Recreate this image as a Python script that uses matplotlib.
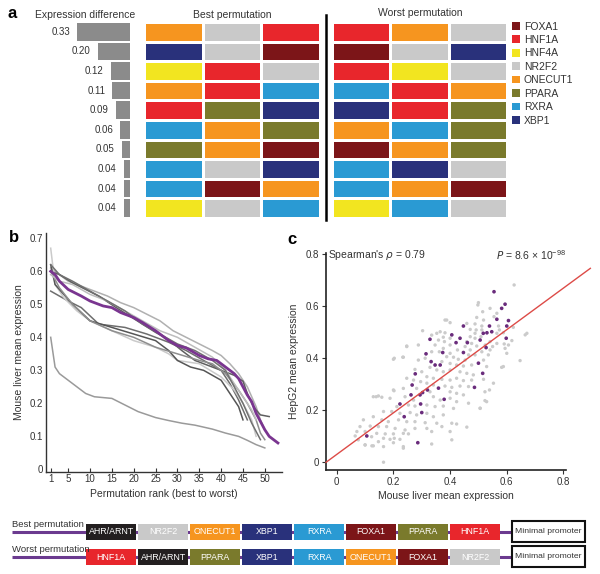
import matplotlib
matplotlib.use("Agg")
import matplotlib.pyplot as plt
from matplotlib.patches import Patch
from matplotlib.colors import ListedColormap
from matplotlib.lines import Line2D
import numpy as np

plt.rcParams['font.family'] = ['Liberation Sans', 'DejaVu Sans']
TXT = '#333333'

# ---------------- data ----------------
tf_names = ['FOXA1', 'HNF1A', 'HNF4A', 'NR2F2', 'ONECUT1', 'PPARA', 'RXRA', 'XBP1']
tf_colors = ['#7c1518', '#e8262c', '#f2e520', '#c9c9c9', '#f6951f', '#7a7a2c', '#2a9ad3', '#29317b']
extra_name = 'AHR/ARNT'
extra_color = '#231f20'

expr_diff = [0.33, 0.20, 0.12, 0.11, 0.09, 0.06, 0.05, 0.04, 0.04, 0.04]
expr_labels = ['0.33', '0.20', '0.12', '0.11', '0.09', '0.06', '0.05', '0.04', '0.04', '0.04']

best_perm = [
    ['ONECUT1', 'NR2F2', 'HNF1A'],
    ['XBP1', 'NR2F2', 'FOXA1'],
    ['HNF4A', 'HNF1A', 'NR2F2'],
    ['ONECUT1', 'HNF1A', 'RXRA'],
    ['HNF1A', 'PPARA', 'XBP1'],
    ['RXRA', 'ONECUT1', 'PPARA'],
    ['PPARA', 'ONECUT1', 'FOXA1'],
    ['RXRA', 'NR2F2', 'XBP1'],
    ['RXRA', 'FOXA1', 'ONECUT1'],
    ['HNF4A', 'NR2F2', 'RXRA'],
]
worst_perm = [
    ['HNF1A', 'ONECUT1', 'NR2F2'],
    ['FOXA1', 'NR2F2', 'XBP1'],
    ['HNF1A', 'HNF4A', 'NR2F2'],
    ['RXRA', 'HNF1A', 'ONECUT1'],
    ['XBP1', 'HNF1A', 'PPARA'],
    ['ONECUT1', 'RXRA', 'PPARA'],
    ['FOXA1', 'ONECUT1', 'PPARA'],
    ['RXRA', 'XBP1', 'NR2F2'],
    ['RXRA', 'ONECUT1', 'FOXA1'],
    ['HNF4A', 'RXRA', 'NR2F2'],
]

# panel b: permutation rank curves (rank, mean expression, colour)
b_lines = [
    ([1, 2, 3, 5, 7, 9, 11, 15, 18, 21, 25, 28, 31, 34, 38, 41, 44, 46, 48, 50],
     [0.40, 0.31, 0.29, 0.27, 0.25, 0.23, 0.22, 0.215, 0.195, 0.175, 0.157, 0.148, 0.14, 0.134, 0.122, 0.11, 0.10, 0.088, 0.075, 0.065],
     '#9a9a9a'),
    ([1, 3, 5, 8, 11, 14, 17, 20, 23, 26, 29, 32, 35, 38, 40, 42, 44, 46, 47, 48, 49, 50],
     [0.61, 0.59, 0.57, 0.555, 0.54, 0.525, 0.505, 0.49, 0.47, 0.45, 0.42, 0.40, 0.38, 0.36, 0.345, 0.32, 0.29, 0.25, 0.22, 0.19, 0.15, 0.12],
     '#b0b0b0'),
    ([1, 3, 6, 9, 12, 16, 19, 22, 25, 28, 31, 34, 37, 40, 43, 45, 46, 47, 48, 49, 51],
     [0.60, 0.59, 0.565, 0.545, 0.525, 0.49, 0.465, 0.44, 0.415, 0.393, 0.36, 0.33, 0.315, 0.30, 0.285, 0.267, 0.23, 0.20, 0.18, 0.165, 0.16],
     '#5f5f5f'),
    ([1, 5, 8, 12, 18, 23, 28, 32, 36, 40, 42, 44, 45, 46],
     [0.54, 0.51, 0.49, 0.44, 0.43, 0.41, 0.385, 0.36, 0.33, 0.30, 0.26, 0.21, 0.18, 0.15],
     '#6e6e6e'),
    ([1, 2, 4, 7, 10, 15, 20, 25, 28, 30, 35, 40, 43, 45, 47, 48],
     [0.67, 0.56, 0.52, 0.48, 0.45, 0.42, 0.39, 0.37, 0.35, 0.33, 0.32, 0.28, 0.24, 0.20, 0.15, 0.10],
     '#cacaca'),
    ([1, 2, 4, 6, 10, 15, 20, 25, 28, 30, 33, 36, 40, 42, 44, 45],
     [0.62, 0.56, 0.53, 0.50, 0.45, 0.43, 0.41, 0.39, 0.36, 0.33, 0.31, 0.30, 0.27, 0.23, 0.19, 0.15],
     '#555555'),
    ([1, 3, 6, 10, 15, 20, 25, 30, 35, 38, 41, 44, 46, 48, 49, 50],
     [0.60, 0.55, 0.50, 0.45, 0.42, 0.40, 0.37, 0.35, 0.33, 0.32, 0.29, 0.24, 0.20, 0.15, 0.11, 0.09],
     '#8e8e8e'),
    ([1, 3, 6, 10, 14, 18, 22, 26, 30, 34, 38, 41, 43, 45, 47, 48],
     [0.59, 0.57, 0.56, 0.53, 0.51, 0.48, 0.45, 0.42, 0.40, 0.37, 0.34, 0.30, 0.26, 0.22, 0.18, 0.15],
     '#bdbdbd'),
    ([1, 3, 6, 10, 14, 18, 22, 26, 30, 34, 38, 41, 43, 45, 47, 49],
     [0.62, 0.59, 0.57, 0.54, 0.51, 0.48, 0.44, 0.41, 0.38, 0.36, 0.33, 0.30, 0.25, 0.20, 0.14, 0.09],
     '#707070'),
]
purple_rank = [1, 2, 3, 5, 8, 10, 13, 15, 17, 20, 22, 25, 28, 30, 32, 35, 37, 39, 41, 43, 44, 45, 46, 47, 48, 49, 50, 51, 52, 53]
purple_vals = [0.60, 0.59, 0.57, 0.545, 0.525, 0.51, 0.495, 0.49, 0.475, 0.46, 0.445, 0.42, 0.39, 0.375, 0.368, 0.345, 0.335, 0.33,
               0.31, 0.29, 0.275, 0.25, 0.225, 0.205, 0.17, 0.145, 0.12, 0.10, 0.09, 0.08]

# panel c: scatter (mouse liver vs HepG2)
gray_pts = [
    (0.626,0.682),(0.498,0.605),(0.541,0.592),(0.515,0.579),(0.565,0.573),(0.555,0.560),(0.494,0.557),(0.518,0.547),
    (0.388,0.547),(0.400,0.537),(0.459,0.534),(0.488,0.532),(0.512,0.524),(0.571,0.524),(0.623,0.519),(0.471,0.511),
    (0.492,0.509),(0.512,0.509),(0.574,0.509),(0.365,0.502),(0.382,0.498),(0.353,0.496),(0.488,0.496),(0.565,0.496),
    (0.588,0.498),(0.303,0.506),(0.335,0.489),(0.376,0.481),(0.400,0.477),(0.359,0.470),(0.380,0.464),(0.471,0.483),
    (0.488,0.477),(0.509,0.483),(0.459,0.464),(0.476,0.457),(0.541,0.464),(0.565,0.457),(0.618,0.468),(0.591,0.455),
    (0.247,0.445),(0.288,0.451),(0.347,0.451),(0.400,0.451),(0.453,0.445),(0.494,0.447),(0.524,0.451),(0.550,0.445),
    (0.594,0.438),(0.376,0.438),(0.426,0.432),(0.471,0.432),(0.512,0.425),(0.541,0.432),(0.362,0.425),(0.400,0.419),
    (0.335,0.425),(0.465,0.413),(0.488,0.413),(0.535,0.413),(0.288,0.393),(0.312,0.400),(0.388,0.406),(0.412,0.404),
    (0.429,0.396),(0.453,0.393),(0.518,0.393),(0.200,0.396),(0.235,0.404),(0.371,0.387),(0.400,0.380),(0.423,0.374),
    (0.447,0.370),(0.476,0.374),(0.529,0.368),(0.582,0.365),(0.647,0.391),(0.671,0.496),(0.329,0.365),(0.353,0.355),
    (0.376,0.348),(0.400,0.355),(0.435,0.348),(0.459,0.342),(0.482,0.336),(0.276,0.357),(0.300,0.348),(0.318,0.329),
    (0.341,0.323),(0.371,0.319),(0.400,0.316),(0.423,0.323),(0.447,0.314),(0.476,0.316),(0.518,0.319),(0.553,0.304),
    (0.247,0.323),(0.271,0.316),(0.296,0.310),(0.318,0.304),(0.341,0.297),(0.382,0.293),(0.406,0.288),(0.435,0.293),
    (0.465,0.291),(0.200,0.278),(0.235,0.284),(0.282,0.284),(0.329,0.271),(0.400,0.271),(0.423,0.265),(0.447,0.259),
    (0.523,0.271),(0.139,0.252),(0.159,0.250),(0.188,0.246),(0.241,0.252),(0.271,0.239),(0.341,0.252),(0.365,0.239),
    (0.400,0.246),(0.423,0.233),(0.465,0.227),(0.523,0.237),(0.212,0.214),(0.253,0.220),(0.276,0.216),(0.318,0.220),
    (0.347,0.214),(0.376,0.216),(0.412,0.207),(0.506,0.207),(0.165,0.195),(0.194,0.195),(0.223,0.188),(0.259,0.191),
    (0.282,0.182),(0.318,0.188),(0.341,0.175),(0.376,0.182),(0.094,0.163),(0.129,0.175),(0.159,0.163),(0.182,0.156),
    (0.218,0.163),(0.247,0.156),(0.276,0.156),(0.312,0.152),(0.353,0.150),(0.423,0.147),(0.082,0.137),(0.118,0.139),
    (0.147,0.137),(0.176,0.137),(0.206,0.130),(0.241,0.124),(0.276,0.130),(0.318,0.130),(0.371,0.137),(0.400,0.118),
    (0.071,0.118),(0.100,0.118),(0.141,0.111),(0.171,0.109),(0.200,0.109),(0.235,0.111),(0.253,0.109),(0.335,0.118),
    (0.123,0.098),(0.165,0.092),(0.188,0.088),(0.223,0.088),(0.076,0.086),(0.147,0.079),(0.200,0.075),(0.100,0.066),
    (0.129,0.063),(0.165,0.060),(0.235,0.060),(0.335,0.070),(0.165,0.000),(0.235,0.054),(0.406,0.086),(0.406,0.150),
    (0.459,0.135),(0.506,0.208),(0.529,0.233),(0.539,0.278),(0.588,0.368),(0.600,0.419),(0.606,0.451),(0.665,0.490),
    (0.129,0.252),(0.147,0.255),(0.202,0.275),(0.203,0.400),(0.233,0.404),(0.247,0.447),(0.382,0.547),(0.500,0.614),
    (0.065,0.101),(0.100,0.067),(0.124,0.063),(0.203,0.092),
]
purple_pts = [
    (0.555,0.656),(0.594,0.608),(0.582,0.592),(0.565,0.550),(0.606,0.545),(0.600,0.524),(0.539,0.524),(0.530,0.498),
    (0.517,0.496),(0.547,0.502),(0.506,0.470),(0.461,0.460),(0.447,0.524),(0.406,0.490),(0.421,0.460),(0.435,0.477),
    (0.329,0.473),(0.374,0.422),(0.447,0.422),(0.527,0.441),(0.500,0.381),(0.598,0.477),(0.315,0.417),(0.333,0.387),
    (0.347,0.374),(0.365,0.374),(0.359,0.285),(0.320,0.278),(0.486,0.288),(0.515,0.342),(0.277,0.340),(0.266,0.297),
    (0.303,0.268),(0.294,0.259),(0.262,0.259),(0.223,0.224),(0.296,0.224),(0.300,0.191),(0.238,0.175),(0.379,0.242),
    (0.106,0.101),(0.286,0.075),
]
reg_slope = 0.80
reg_intercept = 0.03
reg_x_range = [-0.038, 0.895]

# panel d: constructs
best_construct = ['AHR/ARNT', 'NR2F2', 'ONECUT1', 'XBP1', 'RXRA', 'FOXA1', 'PPARA', 'HNF1A']
worst_construct = ['HNF1A', 'AHR/ARNT', 'PPARA', 'XBP1', 'RXRA', 'ONECUT1', 'FOXA1', 'NR2F2']

# ---------------- figure ----------------
W, H = 600, 574
fig = plt.figure(figsize=(W / 100, H / 100), dpi=100)
fig.patch.set_facecolor('white')


def px_axes(l, t, r, b):
    return fig.add_axes([l / W, 1 - b / H, (r - l) / W, (b - t) / H])


def ftext(x, y, s, **kw):
    kw.setdefault('color', TXT)
    return fig.text(x / W, 1 - y / H, s, **kw)


color_of = dict(zip(tf_names, tf_colors))
color_of[extra_name] = extra_color

# ---- panel a ----
ftext(12, 14, 'a', fontsize=12, fontweight='bold', ha='center', va='center', color='black')
ftext(85, 15.5, 'Expression difference', fontsize=7.5, ha='center', va='center')
ftext(232, 15.5, 'Best permutation', fontsize=7.5, ha='center', va='center')
ftext(420, 13, 'Worst permutation', fontsize=7.5, ha='center', va='center')

ax_bar = px_axes(20, 22, 130, 218)
rows = np.arange(len(expr_diff))
ax_bar.barh(rows, expr_diff, height=0.9, color='#8b8b8b', align='center')
ax_bar.set_xlim(110 / 160, 0)
ax_bar.set_ylim(len(rows) - 0.5, -0.5)
for r, v, lab in zip(rows, expr_diff, expr_labels):
    ax_bar.text(v + 0.045, r, lab, ha='right', va='center', fontsize=7, color=TXT)
ax_bar.axis('off')

cmap = ListedColormap(tf_colors)
for perm, (l, r) in [(best_perm, (144, 320)), (worst_perm, (332, 507))]:
    ax = px_axes(l, 22, r, 218)
    mat = np.array([[tf_names.index(n) for n in row] for row in perm])
    ax.pcolormesh(mat, cmap=cmap, vmin=-0.5, vmax=len(tf_names) - 0.5,
                  edgecolors='white', linewidth=1.0)
    ax.set_xlim(0, 3)
    ax.set_ylim(len(perm), 0)
    ax.axis('off')

fig.add_artist(Line2D([325.7 / W, 325.7 / W], [1 - 15 / H, 1 - 220 / H],
                      transform=fig.transFigure, color='black', lw=1.8))

handles = [Patch(facecolor=c, edgecolor='none', label=n) for n, c in zip(tf_names, tf_colors)]
fig.legend(handles=handles, loc='upper left', bbox_to_anchor=(512 / W, 1 - 21.5 / H),
           frameon=False, fontsize=7.5, handlelength=0.75, handleheight=0.75,
           handletextpad=0.4, labelspacing=0.33, borderpad=0, borderaxespad=0,
           labelcolor=TXT)

# ---- panel b ----
ftext(14, 238, 'b', fontsize=12, fontweight='bold', ha='center', va='center', color='black')
axb = px_axes(46, 233, 282, 471.7)
for ranks, vals, col in b_lines:
    axb.plot(ranks, vals, color=col, lw=1.1, solid_joinstyle='miter')
axb.plot(purple_rank, purple_vals, color='#7a3590', lw=2.0, zorder=5)
axb.set_xlim(-0.075, 53.93)
axb.set_ylim(-0.007, 0.716)
axb.set_xticks([1, 5, 10, 15, 20, 25, 30, 35, 40, 45, 50])
axb.set_yticks([0, 0.1, 0.2, 0.3, 0.4, 0.5, 0.6, 0.7])
axb.set_yticklabels(['0', '0.1', '0.2', '0.3', '0.4', '0.5', '0.6', '0.7'])
axb.tick_params(axis='both', direction='in', length=3, width=0.8, labelsize=7, colors=TXT, pad=2)
axb.tick_params(axis='y', length=0)
for s in ['top', 'right']:
    axb.spines[s].set_visible(False)
for s in ['left', 'bottom']:
    axb.spines[s].set_color('#333333')
    axb.spines[s].set_linewidth(1.0)
axb.set_xlabel('Permutation rank (best to worst)', fontsize=7.5, color=TXT, labelpad=3)
axb.set_ylabel('Mouse liver mean expression', fontsize=7.5, color=TXT, labelpad=4)

# ---- panel c ----
ftext(292, 240, 'c', fontsize=12, fontweight='bold', ha='center', va='center', color='black')
axc = px_axes(326, 253, 565.7, 470)
gx, gy = zip(*gray_pts)
pxs, pys = zip(*purple_pts)
axc.scatter(gx, gy, s=6, color='#cbcbcb', edgecolors='none', zorder=2)
axc.scatter(pxs, pys, s=7, color='#6a2c7c', edgecolors='none', zorder=3)
rx = np.array(reg_x_range)
axc.plot(rx, reg_slope * rx + reg_intercept, color='#dd4b47', lw=1.0, zorder=4, clip_on=False)
axc.set_xlim(-0.038, 0.808)
axc.set_ylim(-0.03, 0.805)
axc.set_xticks([0, 0.2, 0.4, 0.6, 0.8])
axc.set_xticklabels(['0', '0.2', '0.4', '0.6', '0.8'])
axc.set_yticks([0, 0.2, 0.4, 0.6, 0.8])
axc.set_yticklabels(['0', '0.2', '0.4', '0.6', '0.8'])
axc.tick_params(axis='both', direction='out', length=3, width=0.8, labelsize=7, colors=TXT, pad=2)
for s in ['top', 'right']:
    axc.spines[s].set_visible(False)
for s in ['left', 'bottom']:
    axc.spines[s].set_color('#222222')
    axc.spines[s].set_linewidth(1.2)
axc.set_xlabel('Mouse liver mean expression', fontsize=7.5, color=TXT, labelpad=3)
axc.set_ylabel('HepG2 mean expression', fontsize=7.5, color=TXT, labelpad=5)
axc.text(0.01, 0.99, "Spearman's $\\rho$ = 0.79", transform=axc.transAxes, fontsize=7.5,
         color=TXT, ha='left', va='center')
axc.text(1.0, 0.99, '$P$ = 8.6 × 10$^{\\mathregular{-98}}$', transform=axc.transAxes, fontsize=7.5,
         color=TXT, ha='right', va='center')

# ---- panel d ----
axd = px_axes(0, 515, 600, 574)
axd.set_xlim(-86 / 52, (600 - 86) / 52)
axd.set_ylim((574 - 531.5) / 25, (515 - 531.5) / 25)
axd.axis('off')
for row, (construct, label) in enumerate([(best_construct, 'Best permutation'),
                                           (worst_construct, 'Worst permutation')]):
    axd.plot([-1.43, 8.19], [row, row], color='#6b3a8f', lw=2.2, zorder=1, solid_capstyle='butt')
    pos = np.arange(len(construct))
    axd.barh([row] * len(construct), [0.97] * len(construct), left=pos, height=0.64,
             color=[color_of[n] for n in construct], align='center', zorder=2)
    for p, n in zip(pos, construct):
        axd.text(p + 0.485, row + 0.02, n, ha='center', va='center', fontsize=6.4, color='white', zorder=3)
    axd.barh([row], [1.41], left=8.185, height=0.86, color='white', edgecolor='#111111',
             linewidth=1.5, align='center', zorder=2)
    axd.text(8.185 + 0.705, row, 'Minimal promoter', ha='center', va='center', fontsize=6.1, color=TXT, zorder=3)
    axd.text(-1.43, row - 0.29, label, ha='left', va='center', fontsize=6.8, color=TXT)

fig.savefig('out.png', dpi=100, facecolor='white')
